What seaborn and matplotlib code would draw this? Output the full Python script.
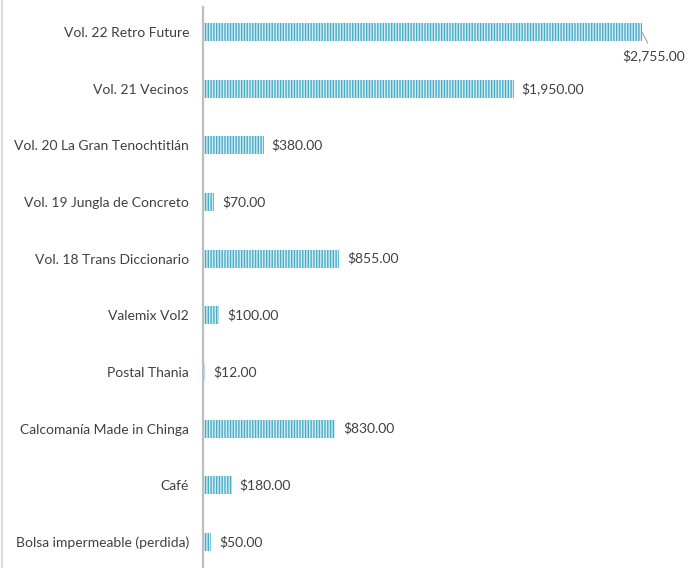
import matplotlib
matplotlib.use("Agg")
import matplotlib.pyplot as plt
import seaborn as sns
import pandas as pd
from matplotlib.lines import Line2D

categories = [
    "Vol. 22 Retro Future",
    "Vol. 21 Vecinos",
    "Vol. 20 La Gran Tenochtitlán",
    "Vol. 19 Jungla de Concreto",
    "Vol. 18 Trans Diccionario",
    "Valemix Vol2",
    "Postal Thania",
    "Calcomanía Made in Chinga",
    "Café",
    "Bolsa impermeable (perdida)",
]
values = [2755, 1950, 380, 70, 855, 100, 12, 830, 180, 50]

df = pd.DataFrame({"item": categories, "amount": values})

sns.set_theme(style="white")
plt.rcParams["font.family"] = ["Lato", "DejaVu Sans"]
plt.rcParams["hatch.linewidth"] = 1.0

fig = plt.figure(figsize=(6.88, 5.68), dpi=100)
ax = fig.add_axes([203 / 688, -2.4 / 568, 478 / 688, 566.8 / 568])

bar_color = "#4BACC6"
sns.barplot(data=df, y="item", x="amount", orient="h", color=bar_color,
            width=0.32, saturation=1, ax=ax)

for p in ax.patches:
    p.set_hatch("||||||")
    p.set_edgecolor("#d4eef5")
    p.set_linewidth(0)

ax.set_xlim(0, 3000)
ax.set_ylim(len(categories) - 0.5, -0.5)
ax.set_xlabel("")
ax.set_ylabel("")
ax.set_xticks([])
ax.tick_params(axis="y", length=0, pad=10, labelsize=10, labelcolor="#404040")
for s in ["top", "right", "bottom"]:
    ax.spines[s].set_visible(False)
ax.spines["left"].set_color("#bfbfbf")
ax.spines["left"].set_linewidth(1.6)
ax.spines["left"].set_bounds(len(categories) - 0.5, -0.44)

for i, v in enumerate(values):
    label = f"${v:,.2f}"
    if i == 0:
        ax.annotate(label, xy=(v, i), xytext=(2830, i + 0.3),
                    ha="center", va="top", fontsize=10, color="#404040",
                    arrowprops=dict(arrowstyle="-", color="#a6a6a6", lw=0.8,
                                    shrinkA=2, shrinkB=0,
                                    relpos=(0.45, 1.0)))
    else:
        ax.text(v + 50, i, label, ha="left", va="center", fontsize=10,
                color="#404040")

fig.add_artist(Line2D([2 / 688, 2 / 688], [0, 1], color="#d9d9d9", lw=1.5,
                      transform=fig.transFigure))

fig.savefig("out.png", dpi=100, facecolor="white")
